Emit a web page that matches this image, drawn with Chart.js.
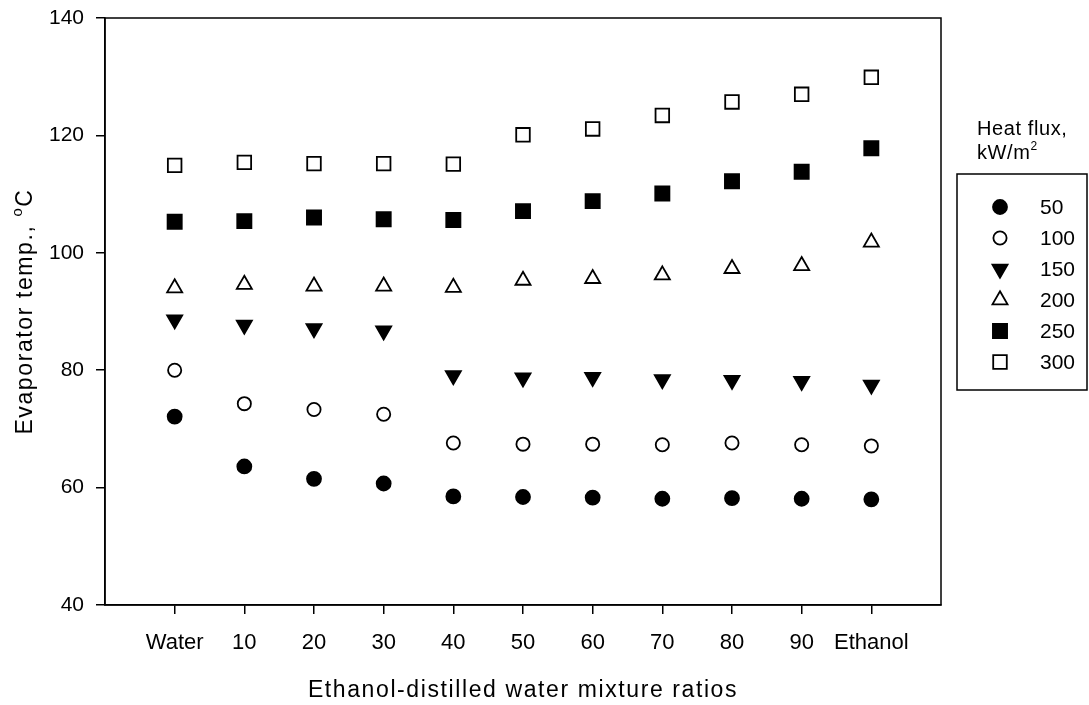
<!DOCTYPE html>
<html><head><meta charset="utf-8">
<script src="https://cdn.jsdelivr.net/npm/chart.js@4/dist/chart.umd.min.js"></script>
<style>html,body{margin:0;padding:0;background:#fff;} #wrap{width:1089px;height:705px;}</style>
</head><body><div id="wrap"><canvas id="c" width="1089" height="705"></canvas></div>
<script>
const categories = ['Water','10','20','30','40','50','60','70','80','90','Ethanol'];
const seriesLabels = ['50','100','150','200','250','300'];
const flux50  = [72.1,63.6,61.5,60.7,58.5,58.4,58.3,58.1,58.2,58.1,58.0];
const flux100 = [80.0,74.3,73.3,72.5,67.6,67.4,67.4,67.3,67.6,67.3,67.1];
const flux150 = [88.6,87.7,87.1,86.7,79.1,78.7,78.8,78.4,78.3,78.1,77.5];
const flux200 = [94.0,94.6,94.3,94.3,94.1,95.3,95.6,96.2,97.3,97.8,101.8];
const flux250 = [105.3,105.4,106.0,105.7,105.6,107.1,108.8,110.1,112.2,113.8,117.8];
const flux300 = [114.9,115.4,115.2,115.2,115.1,120.1,121.1,123.4,125.7,127.0,129.9];
const yTicks = [40,60,80,100,120,140];

const FONT = "'Liberation Sans', Arial, Helvetica, sans-serif";
const seriesValues = [flux50, flux100, flux150, flux200, flux250, flux300];
const styles = [
  {pointStyle:'circle', radius:7, rotation:0, fill:'#000'},
  {pointStyle:'circle', radius:6.6, rotation:0, fill:'#fff'},
  {pointStyle:'triangle', radius:8.7, rotation:180, fill:'#000'},
  {pointStyle:'triangle', radius:8.7, rotation:0, fill:'#fff'},
  {pointStyle:'rect', radius:10, rotation:0, fill:'#000'},
  {pointStyle:'rect', radius:9.6, rotation:0, fill:'#fff'}
];

const datasets = seriesLabels.map((lab, s) => ({
  label: lab,
  data: seriesValues[s].map((v, i) => ({x: i, y: v})),
  showLine: false,
  pointStyle: styles[s].pointStyle,
  pointRadius: styles[s].radius,
  pointHoverRadius: styles[s].radius,
  pointRotation: styles[s].rotation,
  pointBackgroundColor: styles[s].fill,
  pointBorderColor: '#000',
  pointBorderWidth: 1.8,
  clip: false
}));

const framePlugin = {
  id: 'frame',
  afterDatasetsDraw(chart) {
    const {ctx, chartArea: a} = chart;
    ctx.save();
    ctx.strokeStyle = '#000';
    ctx.lineWidth = 1.5;
    ctx.strokeRect(a.left, a.top, a.right - a.left, a.bottom - a.top);
    ctx.restore();
  }
};

const titlesPlugin = {
  id: 'titles',
  afterDraw(chart) {
    const {ctx, chartArea: a} = chart;
    ctx.save();
    ctx.fillStyle = '#000';
    ctx.font = '23px ' + FONT;
    ctx.letterSpacing = '1.6px';
    ctx.textAlign = 'center';
    ctx.textBaseline = 'alphabetic';
    ctx.fillText('Ethanol-distilled water mixture ratios', (a.left + a.right) / 2, 697);
    const p1 = 'Evaporator temp., ', p2 = 'o', p3 = 'C';
    ctx.textAlign = 'left';
    ctx.font = '23px ' + FONT;
    const w1 = ctx.measureText(p1).width;
    const w3 = ctx.measureText(p3).width;
    ctx.font = '15px ' + FONT;
    const w2 = ctx.measureText(p2).width;
    const tot = w1 + w2 + w3;
    ctx.translate(32, (a.top + a.bottom) / 2);
    ctx.rotate(-Math.PI / 2);
    const x0 = -tot / 2;
    ctx.font = '23px ' + FONT;
    ctx.fillText(p1, x0, 0);
    ctx.font = '15px ' + FONT;
    ctx.fillText(p2, x0 + w1, -10);
    ctx.font = '23px ' + FONT;
    ctx.fillText(p3, x0 + w1 + w2, 0);
    ctx.restore();
  }
};

const legendPlugin = {
  id: 'customLegend',
  afterDraw(chart) {
    const ctx = chart.ctx;
    ctx.save();
    ctx.fillStyle = '#000';
    ctx.font = '20px ' + FONT;
    ctx.letterSpacing = '0.6px';
    ctx.textAlign = 'left';
    ctx.textBaseline = 'alphabetic';
    ctx.fillText('Heat flux,', 977, 135);
    ctx.fillText('kW/m', 977, 159);
    const wk = ctx.measureText('kW/m').width;
    ctx.font = '12px ' + FONT;
    ctx.fillText('2', 977 + wk, 150);
    ctx.letterSpacing = '0px';
    ctx.strokeStyle = '#000';
    ctx.lineWidth = 1.5;
    ctx.strokeRect(957, 174, 130, 216);
    ctx.font = '21px ' + FONT;
    ctx.textBaseline = 'middle';
    chart.data.datasets.forEach((ds, i) => {
      const y = 207 + i * 31;
      ctx.save();
      ctx.fillStyle = ds.pointBackgroundColor;
      ctx.strokeStyle = ds.pointBorderColor;
      ctx.lineWidth = ds.pointBorderWidth;
      Chart.helpers.drawPoint(ctx, {
        pointStyle: ds.pointStyle,
        radius: ds.pointRadius,
        rotation: ds.pointRotation,
        borderWidth: ds.pointBorderWidth
      }, 1000, y);
      ctx.restore();
      ctx.fillText(ds.label, 1040, y + 1);
    });
    ctx.restore();
  }
};

new Chart(document.getElementById('c'), {
  type: 'scatter',
  data: { datasets },
  options: {
    responsive: false,
    devicePixelRatio: 1,
    animation: false,
    layout: { padding: { top: 18, right: 148, left: 0, bottom: 0 } },
    plugins: { legend: { display: false }, tooltip: { enabled: false } },
    scales: {
      x: {
        type: 'linear',
        min: -1, max: 11,
        afterBuildTicks: s => { s.ticks = categories.map((c, i) => ({ value: i })); },
        afterFit: s => { s.height = 100; s.paddingLeft = 0; s.paddingRight = 0; },
        grid: { display: true, drawOnChartArea: false, drawTicks: true, tickLength: 9, color: '#000', lineWidth: 1.5 },
        border: { display: true, color: '#000', width: 1.5 },
        ticks: {
          color: '#000', padding: 16, maxRotation: 0, autoSkip: false,
          font: { family: FONT, size: 22 },
          callback: v => categories[v] !== undefined ? categories[v] : ''
        }
      },
      y: {
        type: 'linear',
        min: 40, max: 140,
        afterBuildTicks: s => { s.ticks = yTicks.map(v => ({ value: v })); },
        afterFit: s => { s.width = 105; s.paddingTop = 0; s.paddingBottom = 0; },
        grid: { display: true, drawOnChartArea: false, drawTicks: true, tickLength: 9, color: '#000', lineWidth: 1.5 },
        border: { display: true, color: '#000', width: 1.5 },
        ticks: { color: '#000', padding: 12, font: { family: FONT, size: 21 } }
      }
    }
  },
  plugins: [framePlugin, titlesPlugin, legendPlugin]
});
</script>
</body></html>
